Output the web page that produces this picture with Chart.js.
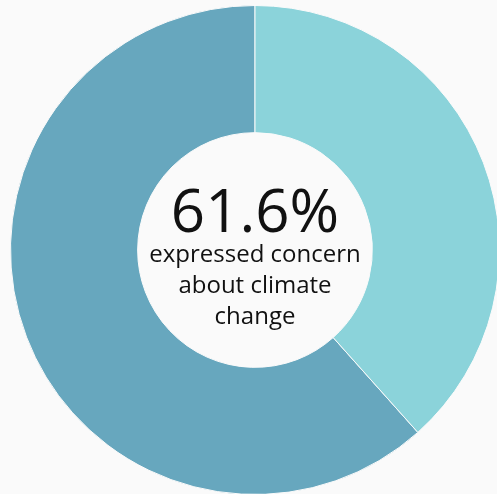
<!DOCTYPE html>
<html>
<head>
<meta charset="utf-8">
<script src="https://cdn.jsdelivr.net/npm/chart.js@4"></script>
<style>
  html, body { margin: 0; padding: 0; background: #fafafa; width: 497px; height: 494px; overflow: hidden; }
  #wrap { position: absolute; left: 5px; top: 0px; width: 500px; height: 500px; }
</style>
</head>
<body>
<div id="wrap"><canvas id="c"></canvas></div>
<script>
const labels = ["Expressed concern", "Did not express concern"];
const values = [61.6, 38.4];
const colors = ["#67a7be", "#8bd3da"];
const centerValue = "61.6%";
const centerLines = ["expressed concern", "about climate", "change"];

const centerText = {
  id: 'centerText',
  afterDraw(chart) {
    const meta = chart.getDatasetMeta(0);
    const arc = meta.data[0];
    const x = arc.x, y = arc.y;
    const ctx = chart.ctx;
    ctx.save();
    ctx.fillStyle = '#111';
    ctx.textAlign = 'center';
    ctx.textBaseline = 'alphabetic';
    ctx.font = '60px "Open Sans"';
    ctx.fillText(centerValue, x, y - 18);
    ctx.font = '24px "Open Sans"';
    centerLines.forEach((l, i) => ctx.fillText(l, x, y + 12 + i * 31));
    ctx.restore();
  }
};

new Chart(document.getElementById('c'), {
  type: 'doughnut',
  data: {
    labels: labels,
    datasets: [{
      data: values,
      backgroundColor: colors,
      borderColor: '#fafafa',
      borderWidth: 1
    }]
  },
  options: {
    responsive: true,
    maintainAspectRatio: false,
    animation: false,
    cutout: '48%',
    rotation: 138.24,
    layout: { padding: 5 },
    plugins: { legend: { display: false }, tooltip: { enabled: false } }
  },
  plugins: [centerText]
});
</script>
</body>
</html>
